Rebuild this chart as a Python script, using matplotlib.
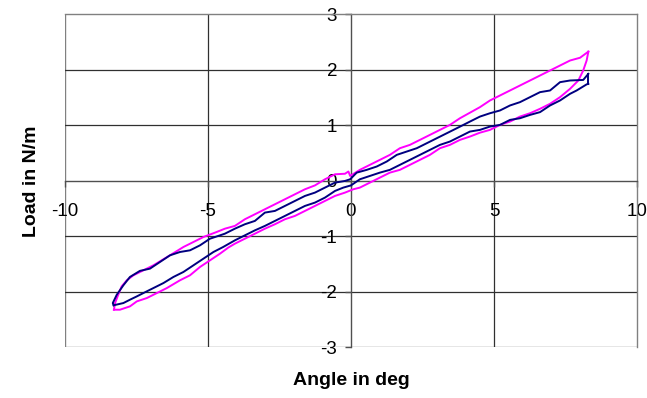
import matplotlib
matplotlib.use("Agg")
import matplotlib.pyplot as plt

plt.rcParams["font.family"] = ["Liberation Sans", "DejaVu Sans"]

# Outer loop (magenta): lower branch left->right, upper branch right->left
mag_lower_x = [-8.29, -8.08, -7.73, -7.49, -7.14, -6.79, -6.44, -5.98, -5.63, -5.28,
               -4.93, -4.58, -4.29, -4.06, -3.71, -3.36, -3.01, -2.66, -2.31, -1.96,
               -1.61, -1.26, -0.91, -0.56, -0.21, 0.08, 0.31, 0.66, 1.01, 1.36,
               1.71, 2.06, 2.41, 2.76, 3.11, 3.46, 3.81, 4.16, 4.51, 4.86,
               5.21, 5.56, 5.91, 6.26, 6.61, 6.96, 7.31, 7.66, 7.95, 8.12,
               8.24, 8.30]
mag_lower_y = [-2.32, -2.32, -2.26, -2.17, -2.11, -2.02, -1.93, -1.79, -1.70, -1.55,
               -1.43, -1.31, -1.20, -1.13, -1.04, -0.95, -0.86, -0.78, -0.69, -0.63,
               -0.54, -0.45, -0.36, -0.27, -0.21, -0.15, -0.12, -0.03, 0.06, 0.15,
               0.20, 0.29, 0.38, 0.47, 0.59, 0.65, 0.74, 0.80, 0.87, 0.92,
               1.01, 1.07, 1.16, 1.22, 1.30, 1.39, 1.51, 1.66, 1.81, 1.99,
               2.17, 2.33]
mag_upper_x = [8.30, 8.01, 7.66, 7.31, 6.96, 6.61, 6.26, 5.91, 5.56, 5.21,
               4.86, 4.51, 4.16, 3.81, 3.46, 3.11, 2.76, 2.41, 2.06, 1.71,
               1.36, 1.01, 0.66, 0.31, -0.03, -0.09, -0.21, -0.56, -0.91, -1.26,
               -1.61, -1.96, -2.31, -2.66, -3.01, -3.36, -3.71, -4.06, -4.41, -4.70,
               -5.16, -5.51, -5.86, -6.33, -6.62, -6.91, -7.26, -7.61, -7.84, -8.02,
               -8.14, -8.25, -8.29]
mag_upper_y = [2.33, 2.22, 2.17, 2.08, 1.99, 1.90, 1.81, 1.72, 1.63, 1.54,
               1.45, 1.33, 1.23, 1.13, 1.01, 0.92, 0.83, 0.74, 0.65, 0.59,
               0.47, 0.38, 0.29, 0.20, 0.09, 0.17, 0.13, 0.12, 0.03, -0.08,
               -0.15, -0.24, -0.33, -0.42, -0.51, -0.60, -0.69, -0.81, -0.86, -0.92,
               -1.01, -1.10, -1.19, -1.34, -1.43, -1.52, -1.61, -1.70, -1.79, -1.90,
               -2.05, -2.20, -2.32]

# Inner loop (navy)
navy_lower_x = [-8.30, -7.96, -7.73, -7.49, -7.26, -6.91, -6.56, -6.21, -5.86, -5.51,
                -5.16, -4.81, -4.47, -4.06, -3.71, -3.36, -3.01, -2.66, -2.31, -1.96,
                -1.61, -1.26, -0.91, -0.56, -0.27, 0.00, 0.31, 0.66, 1.01, 1.36,
                1.71, 2.06, 2.41, 2.76, 3.11, 3.46, 3.81, 4.16, 4.51, 4.86,
                5.21, 5.56, 5.91, 6.26, 6.61, 6.96, 7.31, 7.66, 7.89, 8.24,
                8.30]
navy_lower_y = [-2.24, -2.20, -2.14, -2.08, -2.02, -1.93, -1.84, -1.73, -1.64, -1.52,
                -1.40, -1.28, -1.19, -1.07, -0.98, -0.89, -0.81, -0.72, -0.63, -0.54,
                -0.45, -0.39, -0.30, -0.18, -0.12, -0.08, 0.03, 0.09, 0.15, 0.20,
                0.29, 0.38, 0.47, 0.56, 0.65, 0.71, 0.80, 0.89, 0.92, 0.98,
                1.01, 1.10, 1.13, 1.19, 1.24, 1.36, 1.45, 1.57, 1.63, 1.74,
                1.75]
navy_upper_x = [8.30, 8.12, 7.66, 7.31, 6.96, 6.61, 6.26, 5.91, 5.56, 5.21,
                4.86, 4.51, 4.16, 3.70, 3.35, 3.00, 2.65, 2.30, 1.95, 1.60,
                1.25, 0.90, 0.55, 0.20, -0.03, -0.21, -0.56, -0.91, -1.26, -1.61,
                -1.96, -2.31, -2.66, -3.01, -3.36, -3.71, -4.06, -4.41, -4.58, -4.93,
                -5.28, -5.63, -5.98, -6.33, -6.68, -7.03, -7.38, -7.73, -7.96, -8.19,
                -8.33, -8.30]
navy_upper_y = [1.93, 1.82, 1.81, 1.78, 1.63, 1.60, 1.51, 1.42, 1.36, 1.27,
                1.22, 1.16, 1.07, 0.95, 0.86, 0.77, 0.68, 0.59, 0.53, 0.47,
                0.35, 0.26, 0.20, 0.15, 0.03, 0.00, -0.03, -0.12, -0.21, -0.27,
                -0.36, -0.45, -0.54, -0.57, -0.72, -0.78, -0.86, -0.95, -0.98, -1.04,
                -1.16, -1.25, -1.28, -1.34, -1.46, -1.58, -1.62, -1.73, -1.88, -2.05,
                -2.20, -2.24]

x_ticks = [-10, -5, 0, 5, 10]
y_ticks = [-3, -2, -1, 0, 1, 2, 3]

fig = plt.figure(figsize=(6.47, 3.98), dpi=100)
ax = fig.add_axes([0.1005, 0.127, 0.884, 0.8367])
ax.set_xlim(-10, 10)
ax.set_ylim(-3, 3)

# plot-area frame
for side in ("top", "right"):
    ax.spines[side].set_color("#808080")
    ax.spines[side].set_linewidth(1.0)
ax.axvline(-10, color="#808080", lw=1.0, zorder=1)
ax.axhline(-3, color="#808080", lw=1.0, zorder=1)

# gridlines
for gx in (-5, 5):
    ax.axvline(gx, color="#303030", lw=0.9, zorder=1)
for gy in (-2, -1, 1, 2):
    ax.axhline(gy, color="#303030", lw=0.9, zorder=1)

# axes crossing at the origin
ax.spines["left"].set_position(("data", 0))
ax.spines["bottom"].set_position(("data", 0))
ax.spines["left"].set_color("#505050")
ax.spines["bottom"].set_color("#505050")
ax.spines["left"].set_linewidth(1.0)
ax.spines["bottom"].set_linewidth(1.0)

ax.set_xticks(x_ticks)
ax.set_yticks(y_ticks)
ax.set_xticklabels([str(t) for t in x_ticks])
ax.set_yticklabels([str(t) for t in y_ticks])
ax.tick_params(axis="x", direction="out", length=4, width=1.0, color="#505050",
               pad=12, labelsize=13.5)
ax.tick_params(axis="y", direction="out", length=4, width=1.0, color="#505050",
               pad=6, labelsize=13.5)

ax.plot(mag_lower_x, mag_lower_y, color="#FF00FF", lw=1.4, zorder=3)
ax.plot(mag_upper_x, mag_upper_y, color="#FF00FF", lw=1.4, zorder=3)
ax.plot(navy_lower_x, navy_lower_y, color="#000080", lw=1.4, zorder=4)
ax.plot(navy_upper_x, navy_upper_y, color="#000080", lw=1.4, zorder=4)
# right-hand end of the inner loop
ax.plot([navy_lower_x[-1], navy_upper_x[0]], [navy_lower_y[-1], navy_upper_y[0]],
        color="#000080", lw=1.4, zorder=4)

ax.set_xlabel("Angle in deg", fontsize=14, fontweight="bold")
ax.set_ylabel("Load in N/m", fontsize=14, fontweight="bold")
ax.xaxis.set_label_coords(0.5, -0.075)
ax.yaxis.set_label_coords(-0.043, 0.5)

fig.savefig("out.png", dpi=100)
